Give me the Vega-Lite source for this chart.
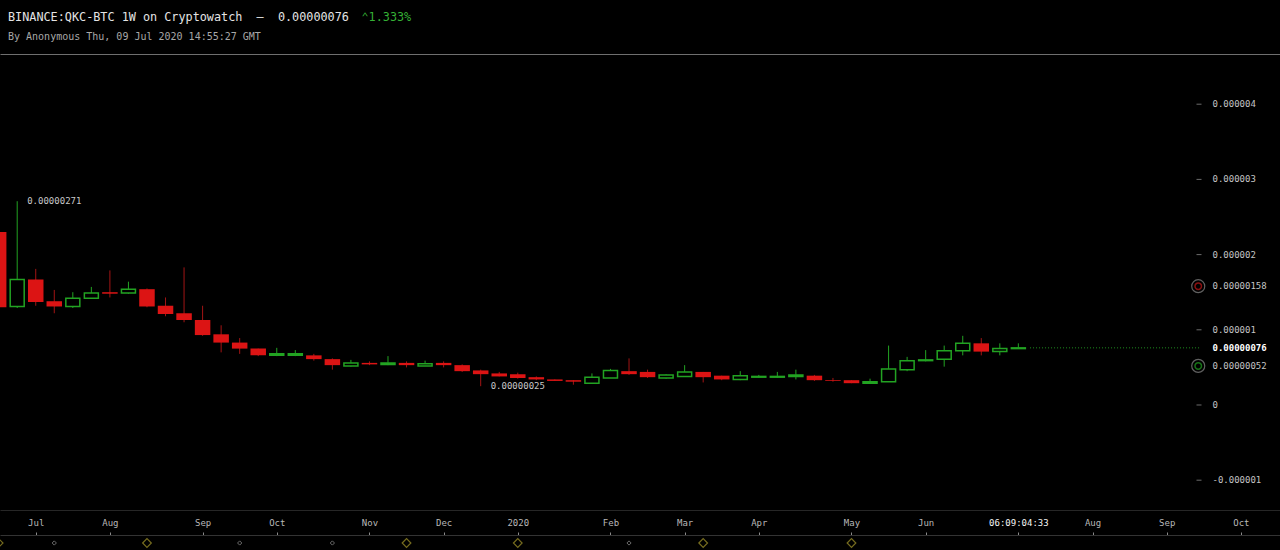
{
  "$schema": "https://vega.github.io/schema/vega-lite/v6.json",
  "background": "#000000",
  "autosize": {"type": "none"},
  "width": 1280,
  "height": 456,
  "padding": {"left": 0, "right": 0, "top": 54, "bottom": 40},
  "title": {
    "text": "BINANCE:QKC-BTC 1W on Cryptowatch\u00a0\u00a0—\u00a0\u00a00.00000076",
    "subtitle": "By Anonymous Thu, 09 Jul 2020 14:55:27 GMT",
    "anchor": "start",
    "frame": "group",
    "dx": 8,
    "offset": -30,
    "font": "DejaVu Sans Mono",
    "fontSize": 11.8,
    "fontWeight": "normal",
    "color": "#e4e4e4",
    "subtitleFont": "DejaVu Sans Mono",
    "subtitleFontSize": 10,
    "subtitleColor": "#a8a8a8",
    "subtitlePadding": 8
  },
  "datasets": {
    "candles": [
      {"d":"2019-06-17","o":0.00000230,"h":0.00000236,"l":0.00000128,"c":0.00000130},
      {"d":"2019-06-24","o":0.00000131,"h":0.00000271,"l":0.00000129,"c":0.00000167},
      {"d":"2019-07-01","o":0.00000167,"h":0.00000181,"l":0.00000132,"c":0.00000137},
      {"d":"2019-07-08","o":0.00000138,"h":0.00000153,"l":0.00000122,"c":0.00000131},
      {"d":"2019-07-15","o":0.00000131,"h":0.00000150,"l":0.00000129,"c":0.00000142},
      {"d":"2019-07-22","o":0.00000142,"h":0.00000157,"l":0.00000141,"c":0.00000149},
      {"d":"2019-07-29","o":0.00000150,"h":0.00000179,"l":0.00000143,"c":0.00000148},
      {"d":"2019-08-05","o":0.00000149,"h":0.00000164,"l":0.00000148,"c":0.00000154},
      {"d":"2019-08-12","o":0.00000154,"h":0.00000155,"l":0.00000130,"c":0.00000131},
      {"d":"2019-08-19","o":0.00000132,"h":0.00000143,"l":0.00000118,"c":0.00000121},
      {"d":"2019-08-26","o":0.00000122,"h":0.00000183,"l":0.00000110,"c":0.00000113},
      {"d":"2019-09-02","o":0.00000113,"h":0.00000132,"l":0.00000092,"c":0.00000093},
      {"d":"2019-09-09","o":0.00000094,"h":0.00000106,"l":0.00000070,"c":0.00000083},
      {"d":"2019-09-16","o":0.00000083,"h":0.00000089,"l":0.00000068,"c":0.00000075},
      {"d":"2019-09-23","o":0.00000075,"h":0.00000075,"l":0.00000065,"c":0.00000066},
      {"d":"2019-09-30","o":0.00000066,"h":0.00000076,"l":0.00000065,"c":0.00000068},
      {"d":"2019-10-07","o":0.00000066,"h":0.00000073,"l":0.00000065,"c":0.00000068},
      {"d":"2019-10-14","o":0.00000066,"h":0.00000068,"l":0.00000059,"c":0.00000061},
      {"d":"2019-10-21","o":0.00000061,"h":0.00000062,"l":0.00000047,"c":0.00000053},
      {"d":"2019-10-28","o":0.00000052,"h":0.00000060,"l":0.00000051,"c":0.00000056},
      {"d":"2019-11-04","o":0.00000056,"h":0.00000058,"l":0.00000053,"c":0.00000054},
      {"d":"2019-11-11","o":0.00000054,"h":0.00000065,"l":0.00000053,"c":0.00000056},
      {"d":"2019-11-18","o":0.00000056,"h":0.00000058,"l":0.00000050,"c":0.00000053},
      {"d":"2019-11-25","o":0.00000052,"h":0.00000059,"l":0.00000052,"c":0.00000055},
      {"d":"2019-12-02","o":0.00000056,"h":0.00000058,"l":0.00000050,"c":0.00000053},
      {"d":"2019-12-09","o":0.00000053,"h":0.00000054,"l":0.00000044,"c":0.00000045},
      {"d":"2019-12-16","o":0.00000046,"h":0.00000047,"l":0.00000025,"c":0.00000041},
      {"d":"2019-12-23","o":0.00000042,"h":0.00000044,"l":0.00000038,"c":0.00000038},
      {"d":"2019-12-30","o":0.00000041,"h":0.00000043,"l":0.00000035,"c":0.00000036},
      {"d":"2020-01-06","o":0.00000037,"h":0.00000038,"l":0.00000033,"c":0.00000034},
      {"d":"2020-01-13","o":0.00000034,"h":0.00000034,"l":0.00000032,"c":0.00000032},
      {"d":"2020-01-20","o":0.00000033,"h":0.00000033,"l":0.00000027,"c":0.00000031},
      {"d":"2020-01-27","o":0.00000029,"h":0.00000042,"l":0.00000029,"c":0.00000037},
      {"d":"2020-02-03","o":0.00000036,"h":0.00000048,"l":0.00000036,"c":0.00000046},
      {"d":"2020-02-10","o":0.00000045,"h":0.00000062,"l":0.00000040,"c":0.00000041},
      {"d":"2020-02-17","o":0.00000044,"h":0.00000047,"l":0.00000036,"c":0.00000037},
      {"d":"2020-02-24","o":0.00000036,"h":0.00000041,"l":0.00000035,"c":0.00000040},
      {"d":"2020-03-02","o":0.00000038,"h":0.00000053,"l":0.00000038,"c":0.00000044},
      {"d":"2020-03-09","o":0.00000044,"h":0.00000044,"l":0.00000030,"c":0.00000037},
      {"d":"2020-03-16","o":0.00000039,"h":0.00000039,"l":0.00000033,"c":0.00000034},
      {"d":"2020-03-23","o":0.00000034,"h":0.00000045,"l":0.00000033,"c":0.00000039},
      {"d":"2020-03-30","o":0.00000037,"h":0.00000040,"l":0.00000036,"c":0.00000038},
      {"d":"2020-04-06","o":0.00000037,"h":0.00000044,"l":0.00000036,"c":0.00000038},
      {"d":"2020-04-13","o":0.00000038,"h":0.00000047,"l":0.00000034,"c":0.00000040},
      {"d":"2020-04-20","o":0.00000039,"h":0.00000040,"l":0.00000032,"c":0.00000033},
      {"d":"2020-04-27","o":0.00000033,"h":0.00000036,"l":0.00000031,"c":0.00000032},
      {"d":"2020-05-04","o":0.00000033,"h":0.00000033,"l":0.00000029,"c":0.00000029},
      {"d":"2020-05-11","o":0.00000029,"h":0.00000035,"l":0.00000028,"c":0.00000031},
      {"d":"2020-05-18","o":0.00000031,"h":0.00000079,"l":0.00000031,"c":0.00000048},
      {"d":"2020-05-25","o":0.00000047,"h":0.00000064,"l":0.00000045,"c":0.00000059},
      {"d":"2020-06-01","o":0.00000059,"h":0.00000073,"l":0.00000058,"c":0.00000060},
      {"d":"2020-06-08","o":0.00000061,"h":0.00000079,"l":0.00000051,"c":0.00000072},
      {"d":"2020-06-15","o":0.00000072,"h":0.00000092,"l":0.00000066,"c":0.00000082},
      {"d":"2020-06-22","o":0.00000082,"h":0.00000089,"l":0.00000066,"c":0.00000071},
      {"d":"2020-06-29","o":0.00000071,"h":0.00000082,"l":0.00000066,"c":0.00000075},
      {"d":"2020-07-06","o":0.00000075,"h":0.00000082,"l":0.00000075,"c":0.00000076}
    ],
    "notes": [
      {"d":"2019-06-24","v":0.00000271,"label":"0.00000271"},
      {"d":"2019-12-16","v":0.00000025,"label":"0.00000025"}
    ],
    "priceline": [
      {"d":"2020-07-10T10:00:00Z","d2":"2020-09-12T20:00:00Z","v":0.00000076}
    ],
    "markers": [
      {"d":"2020-09-11T22:00:00Z","v":0.00000158,"side":"ask"},
      {"d":"2020-09-11T22:00:00Z","v":0.00000052,"side":"bid"}
    ],
    "pricelabels": [
      {"d":"2020-09-17T07:00:00Z","v":0.00000158,"label":"0.00000158","kind":"ask"},
      {"d":"2020-09-17T07:00:00Z","v":0.00000076,"label":"0.00000076","kind":"last"},
      {"d":"2020-09-17T07:00:00Z","v":0.00000052,"label":"0.00000052","kind":"bid"}
    ],
    "yticks": [
      {"d":"2020-09-12T05:00:00Z","dl":"2020-09-17T07:00:00Z","v":-0.000001,"label":"-0.000001"},
      {"d":"2020-09-12T05:00:00Z","dl":"2020-09-17T07:00:00Z","v":0,"label":"0"},
      {"d":"2020-09-12T05:00:00Z","dl":"2020-09-17T07:00:00Z","v":0.000001,"label":"0.000001"},
      {"d":"2020-09-12T05:00:00Z","dl":"2020-09-17T07:00:00Z","v":0.000002,"label":"0.000002"},
      {"d":"2020-09-12T05:00:00Z","dl":"2020-09-17T07:00:00Z","v":0.000003,"label":"0.000003"},
      {"d":"2020-09-12T05:00:00Z","dl":"2020-09-17T07:00:00Z","v":0.000004,"label":"0.000004"}
    ],
    "events": [
      {"d":"2019-06-17","kind":"major"},
      {"d":"2019-07-08","kind":"minor"},
      {"d":"2019-08-12","kind":"major"},
      {"d":"2019-09-16","kind":"minor"},
      {"d":"2019-10-21","kind":"minor"},
      {"d":"2019-11-18","kind":"major"},
      {"d":"2019-12-30","kind":"major"},
      {"d":"2020-02-10","kind":"minor"},
      {"d":"2020-03-09","kind":"major"},
      {"d":"2020-05-04","kind":"major"}
    ]
  },
  "layer": [
    {
      "data": {"name": "candles"},
      "mark": {"type": "rule", "clip": true, "strokeWidth": 1},
      "encoding": {
        "x": {
          "field": "d", "type": "temporal",
          "scale": {"type": "utc", "padding": 0, "domain": [1560773340000, 1602528720000]},
          "axis": {
            "orient": "top", "offset": 0, "domain": true, "domainColor": "#6f6f6f", "domainWidth": 1,
            "labels": false, "ticks": false, "grid": false,
            "title": "⌃1.333%", "titleX": 361, "titleY": -37.5, "titleAlign": "left", "titleBaseline": "middle",
            "titleAngle": 0, "titleColor": "#35b035", "titleFontSize": 11.8, "titleFontWeight": "normal", "titleFont": "DejaVu Sans Mono"
          }
        },
        "y": {
          "field": "l", "type": "quantitative",
          "scale": {"domain": [-0.0000013963, 0.0000046676], "nice": false, "zero": false},
          "axis": null
        },
        "y2": {"field": "h"},
        "color": {"condition": {"test": "datum.c >= datum.o", "value": "#22a322"}, "value": "#a31414"}
      }
    },
    {
      "data": {"name": "candles"},
      "transform": [{"filter": "datum.c >= datum.o"}],
      "mark": {"type": "bar", "clip": true, "width": 14, "fill": "#000000", "stroke": "#22a322", "strokeWidth": 1.5},
      "encoding": {
        "x": {"field": "d", "type": "temporal", "axis": null},
        "y": {"field": "o", "type": "quantitative", "axis": null},
        "y2": {"field": "c"}
      }
    },
    {
      "data": {"name": "candles"},
      "transform": [{"filter": "datum.c < datum.o"}],
      "mark": {"type": "bar", "clip": true, "width": 15.5, "fill": "#dc1414"},
      "encoding": {
        "x": {"field": "d", "type": "temporal", "axis": null},
        "y": {"field": "o", "type": "quantitative", "axis": null},
        "y2": {"field": "c"}
      }
    },
    {
      "data": {"name": "notes"},
      "mark": {"type": "text", "align": "left", "baseline": "middle", "dx": 10, "fontSize": 9, "font": "DejaVu Sans Mono", "color": "#c8c8c8"},
      "encoding": {
        "x": {"field": "d", "type": "temporal", "axis": null},
        "y": {"field": "v", "type": "quantitative", "axis": null},
        "text": {"field": "label"}
      }
    },
    {
      "data": {"name": "priceline"},
      "mark": {"type": "rule", "strokeDash": [1, 2], "color": "#1f8f1f", "strokeWidth": 1},
      "encoding": {
        "x": {
          "field": "d", "type": "temporal",
          "axis": {"orient": "bottom", "offset": 0, "domain": true, "domainColor": "#262626", "labels": false, "ticks": false, "grid": false, "title": null}
        },
        "x2": {"field": "d2"},
        "y": {"field": "v", "type": "quantitative", "axis": null}
      }
    },
    {
      "data": {"name": "yticks"},
      "mark": {"type": "point", "shape": "stroke", "size": 25, "filled": false, "color": "#9a9a9a", "strokeWidth": 1},
      "encoding": {
        "x": {"field": "d", "type": "temporal", "axis": null},
        "y": {"field": "v", "type": "quantitative", "axis": null}
      }
    },
    {
      "data": {"name": "yticks"},
      "mark": {"type": "text", "align": "left", "baseline": "middle", "fontSize": 9, "font": "DejaVu Sans Mono", "color": "#c4c4c4"},
      "encoding": {
        "x": {"field": "dl", "type": "temporal", "axis": null},
        "y": {"field": "v", "type": "quantitative", "axis": null},
        "text": {"field": "label"}
      }
    },
    {
      "data": {"name": "markers"},
      "mark": {"type": "point", "shape": "circle", "size": 170, "filled": false, "color": "#8a8a8a", "strokeWidth": 1.2},
      "encoding": {
        "x": {"field": "d", "type": "temporal", "axis": null},
        "y": {"field": "v", "type": "quantitative", "axis": null}
      }
    },
    {
      "data": {"name": "markers"},
      "mark": {"type": "point", "shape": "circle", "size": 42, "filled": false, "strokeWidth": 1.5},
      "encoding": {
        "x": {"field": "d", "type": "temporal", "axis": null},
        "y": {"field": "v", "type": "quantitative", "axis": null},
        "color": {"condition": {"test": "datum.side == 'ask'", "value": "#c41818"}, "value": "#22a322"}
      }
    },
    {
      "data": {"name": "pricelabels"},
      "transform": [{"filter": "datum.kind != 'last'"}],
      "mark": {"type": "text", "align": "left", "baseline": "middle", "fontSize": 9, "font": "DejaVu Sans Mono", "color": "#c4c4c4"},
      "encoding": {
        "x": {"field": "d", "type": "temporal", "axis": null},
        "y": {"field": "v", "type": "quantitative", "axis": null},
        "text": {"field": "label"}
      }
    },
    {
      "data": {"name": "pricelabels"},
      "transform": [{"filter": "datum.kind == 'last'"}],
      "mark": {"type": "text", "align": "left", "baseline": "middle", "fontSize": 9, "font": "DejaVu Sans Mono", "fontWeight": "bold", "color": "#ffffff"},
      "encoding": {
        "x": {"field": "d", "type": "temporal", "axis": null},
        "y": {"field": "v", "type": "quantitative", "axis": null},
        "text": {"field": "label"}
      }
    },
    {
      "data": {"name": "events"},
      "transform": [{"filter": "datum.kind == 'major'"}],
      "mark": {"type": "point", "shape": "diamond", "size": 75, "filled": false, "color": "#a89a2c", "strokeWidth": 1.2},
      "encoding": {
        "x": {
          "field": "d", "type": "temporal",
          "axis": {
            "orient": "bottom", "offset": 25, "title": null, "grid": false,
            "values": [1561939200000, 1564358400000, 1567382400000, 1569801600000, 1572825600000, 1575244800000, 1577664000000, 1580688000000, 1583107200000, 1585526400000, 1588550400000, 1590969600000, 1593993600000, 1596412800000, 1598832000000, 1601251200000],
            "labelExpr": "utcyear(time(datum.value)) == 2020 && utcmonth(time(datum.value)) == 6 ? '' : (utcmonth(time(datum.value) + 302400000) == 0 ? utcFormat(time(datum.value) + 302400000, '%Y') : utcFormat(time(datum.value) + 302400000, '%b'))",
            "labelColor": "#b8b8b8",
            "labelFontSize": 9,
            "labelFont": "DejaVu Sans Mono",
            "labelBaseline": "bottom",
            "labelPadding": -5,
            "labelFlush": false,
            "labelOverlap": false,
            "tickSize": -3,
            "tickColor": "#8a8a8a",
            "domainColor": "#333333"
          }
        },
        "y": {"datum": -0.000001835, "type": "quantitative", "axis": null}
      }
    },
    {
      "data": {"name": "events"},
      "transform": [{"filter": "datum.kind == 'minor'"}],
      "mark": {"type": "point", "shape": "diamond", "size": 18, "filled": false, "color": "#9a9a9a", "strokeWidth": 1},
      "encoding": {
        "x": {
          "field": "d", "type": "temporal",
          "axis": {
            "orient": "bottom", "offset": 25, "title": null, "grid": false, "domain": false, "ticks": false,
            "values": [1593993600000],
            "labelExpr": "'06:09:04:33'",
            "labelColor": "#f4f4f4",
            "labelFontSize": 9,
            "labelFont": "DejaVu Sans Mono",
            "labelBaseline": "bottom",
            "labelPadding": -8,
            "labelFlush": false,
            "labelOverlap": false
          }
        },
        "y": {"datum": -0.000001835, "type": "quantitative", "axis": null}
      }
    }
  ],
  "resolve": {"axis": {"x": "independent"}},
  "config": {
    "view": {"stroke": null},
    "font": "DejaVu Sans Mono",
    "scale": {"continuousPadding": 0},
    "axis": {"grid": false},
    "text": {"font": "DejaVu Sans Mono"}
  }
}
